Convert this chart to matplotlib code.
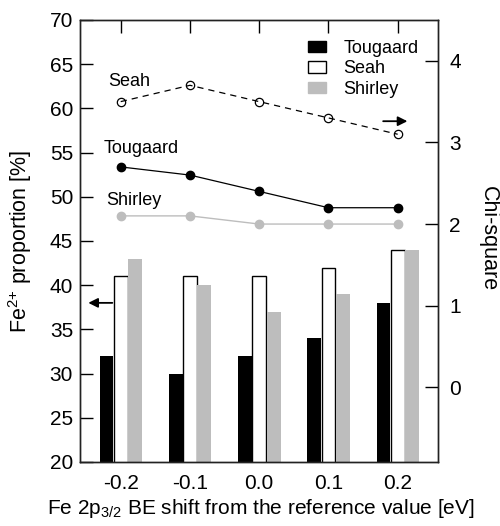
import numpy as np
import matplotlib
matplotlib.use('Agg')
import matplotlib.pyplot as plt
from matplotlib.patches import Patch

plt.rcParams['font.family'] = ['Liberation Sans', 'DejaVu Sans']
plt.rcParams['font.size'] = 15
plt.rcParams['mathtext.fontset'] = 'custom'
plt.rcParams['mathtext.rm'] = 'Liberation Sans'
plt.rcParams['mathtext.it'] = 'Liberation Sans'

# data
shifts = [-0.2, -0.1, 0.0, 0.1, 0.2]
shift_labels = ['-0.2', '-0.1', '0.0', '0.1', '0.2']
# Fe2+ proportion [%] (bars, left axis)
prop_tougaard = [32, 30, 32, 34, 38]
prop_seah = [41, 41, 41, 42, 44]
prop_shirley = [43, 40, 37, 39, 44]
# chi-square (lines, right axis)
chi_tougaard = [2.7, 2.6, 2.4, 2.2, 2.2]
chi_seah = [3.5, 3.7, 3.5, 3.3, 3.1]
chi_shirley = [2.1, 2.1, 2.0, 2.0, 2.0]

gray = '#bdbdbd'
x = np.array(shifts)
w = 0.02

fig = plt.figure(figsize=(5, 5.26), dpi=100)
ax = fig.add_axes([0.16, 0.1217, 0.716, 0.8403])
ax2 = ax.twinx()

ax.bar(x - 0.0205, prop_tougaard, w, color='black', zorder=2)
ax.bar(x, prop_seah, w, color='white', edgecolor='black', linewidth=1.0, zorder=2)
ax.bar(x + 0.0208, prop_shirley, w, color=gray, zorder=2)

ax2.plot(x, chi_seah, '--', color='black', lw=0.9, dashes=(5, 4),
         marker='o', ms=6, mfc='none', mec='black', mew=0.9)
ax2.plot(x, chi_tougaard, '-', color='black', lw=0.9, marker='o', ms=6)
ax2.plot(x, chi_shirley, '-', color=gray, lw=1.0, marker='o', ms=6)

ax.set_xlim(-0.2588, 0.2582)
ax.set_ylim(20, 70)
ax2.set_ylim(-0.915, 4.5)

ax.set_xticks(shifts)
ax.set_xticklabels(shift_labels)
ax.set_yticks(np.arange(20, 71, 5))
ax2.set_yticks([0, 1, 2, 3, 4])

ax.tick_params(axis='x', direction='in', length=9.5, width=1.0, top=True, pad=9)
ax.tick_params(axis='y', direction='in', length=9.5, width=1.0, pad=5)
ax2.tick_params(axis='y', direction='in', length=9.5, width=1.0, pad=8)
for a in (ax, ax2):
    for s in a.spines.values():
        s.set_linewidth(1.0)
        s.set_color('#222222')

ax.set_ylabel(r'Fe$^{\text{2+}}$ proportion [%]', fontsize=15.5)
ax.yaxis.set_label_coords(-0.128, 0.5)
ax2.set_ylabel('Chi-square', rotation=270, va='center', fontsize=15.5)
ax2.yaxis.set_label_coords(1.14, 0.505)
ax.set_xlabel('Fe 2p$_{3/2}$ BE shift from the reference value [eV]', fontsize=15)
ax.xaxis.set_label_coords(0.506, -0.079)

ax2.text(-0.188, 3.75, 'Seah', ha='center', va='center', fontsize=13)
ax2.text(-0.170, 2.93, 'Tougaard', ha='center', va='center', fontsize=13)
ax2.text(-0.1815, 2.29, 'Shirley', ha='center', va='center', fontsize=13)

arrow = dict(arrowstyle='-|>', color='black', lw=1.3, mutation_scale=14,
             shrinkA=0, shrinkB=0)
ax2.annotate('', xy=(0.214, 3.26), xytext=(0.179, 3.26), arrowprops=arrow)
ax.annotate('', xy=(-0.2468, 38.0), xytext=(-0.2121, 38.0), arrowprops=arrow)

handles = [Patch(facecolor='black', edgecolor='black'),
           Patch(facecolor='white', edgecolor='black', linewidth=1.0),
           Patch(facecolor=gray, edgecolor=gray)]
ax2.legend(handles, ['Tougaard', 'Seah', 'Shirley'], loc='upper left',
           bbox_to_anchor=(0.637, 0.955), frameon=False, borderpad=0,
           borderaxespad=0, handlelength=1.0, handleheight=0.6,
           handletextpad=0.95, labelspacing=0.2, fontsize=13)

fig.savefig('out.png', dpi=100)
